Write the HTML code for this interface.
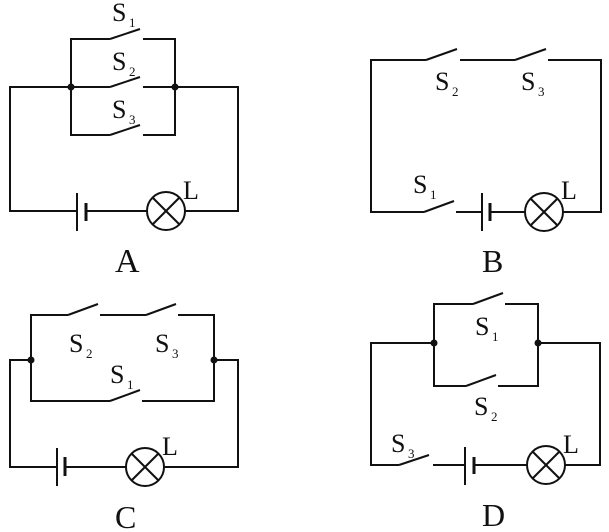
<!DOCTYPE html>
<html><head><meta charset="utf-8"><style>
html,body{margin:0;padding:0;background:#fff;}
svg{display:block;}
text{font-family:"Liberation Serif",serif;fill:#111;}
.s{font-size:26px}.b{font-size:13px}.big{font-size:32px}.l{font-size:26px}
</style></head><body>
<svg width="609" height="532" viewBox="0 0 609 532" xmlns="http://www.w3.org/2000/svg">
<g stroke="#111" stroke-width="2" fill="none">
<!-- A -->
<polyline points="110,39 71,39 71,135 110,135"/>
<polyline points="143,39 175,39 175,135 143,135"/>
<line x1="110" y1="39" x2="140" y2="29"/><line x1="110" y1="87" x2="140" y2="77"/><line x1="110" y1="135" x2="140" y2="125"/>
<polyline points="110,87 10,87 10,211 77,211"/>
<polyline points="143,87 238,87 238,211 185,211"/>
<line x1="86" y1="211" x2="147" y2="211"/>
<line x1="77" y1="193" x2="77" y2="231"/><line x1="86" y1="203" x2="86" y2="221" stroke-width="3"/>
<circle cx="166" cy="211" r="19"/><line x1="153" y1="198" x2="179" y2="224"/><line x1="179" y1="198" x2="153" y2="224"/>
<!-- B -->
<polyline points="426,60 371,60 371,212 424,212"/>
<line x1="426" y1="60" x2="457" y2="49"/>
<line x1="460" y1="60" x2="515" y2="60"/><line x1="515" y1="60" x2="546" y2="49"/>
<polyline points="548,60 601,60 601,212 563,212"/>
<line x1="424" y1="212" x2="454" y2="201"/>
<line x1="456" y1="212" x2="482" y2="212"/><line x1="490" y1="212" x2="525" y2="212"/>
<line x1="482" y1="193" x2="482" y2="231"/><line x1="490" y1="203" x2="490" y2="221" stroke-width="3"/>
<circle cx="544" cy="212" r="19"/><line x1="531" y1="199" x2="557" y2="225"/><line x1="557" y1="199" x2="531" y2="225"/>
<!-- C -->
<polyline points="68,315 31,315 31,401 110,401"/>
<line x1="68" y1="315" x2="98" y2="304"/>
<line x1="100" y1="315" x2="146" y2="315"/><line x1="146" y1="315" x2="176" y2="304"/>
<polyline points="178,315 214,315 214,401 142,401"/>
<line x1="110" y1="401" x2="140" y2="390"/>
<polyline points="31,360 10,360 10,467 57,467"/>
<polyline points="214,360 238,360 238,467 164,467"/>
<line x1="65" y1="467" x2="126" y2="467"/>
<line x1="57" y1="448" x2="57" y2="486"/><line x1="65" y1="457" x2="65" y2="476" stroke-width="3"/>
<circle cx="145" cy="467" r="19"/><line x1="132" y1="454" x2="158" y2="480"/><line x1="158" y1="454" x2="132" y2="480"/>
<!-- D -->
<polyline points="473,304 434,304 434,386 466,386"/>
<line x1="473" y1="304" x2="503" y2="293"/>
<polyline points="505,304 538,304 538,386 498,386"/>
<line x1="466" y1="386" x2="496" y2="375"/>
<polyline points="434,343 371,343 371,465 399,465"/>
<line x1="399" y1="465" x2="429" y2="455"/>
<polyline points="538,343 600,343 600,465 565,465"/>
<line x1="433" y1="465" x2="465" y2="465"/><line x1="474" y1="465" x2="527" y2="465"/>
<line x1="465" y1="447" x2="465" y2="485"/><line x1="474" y1="457" x2="474" y2="474" stroke-width="3"/>
<circle cx="546" cy="465" r="19"/><line x1="533" y1="452" x2="559" y2="478"/><line x1="559" y1="452" x2="533" y2="478"/>
</g>
<g fill="#111">
<circle cx="71" cy="87" r="3.5"/><circle cx="175" cy="87" r="3.5"/>
<circle cx="31" cy="360" r="3.5"/><circle cx="214" cy="360" r="3.5"/>
<circle cx="434" cy="343" r="3.5"/><circle cx="538" cy="343" r="3.5"/>
</g>
<!-- labels A -->
<text class="s" x="112" y="21">S</text><text class="b" x="129" y="27">1</text>
<text class="s" x="112" y="70">S</text><text class="b" x="129" y="76">2</text>
<text class="s" x="112" y="118">S</text><text class="b" x="129" y="124">3</text>
<text class="l" x="183" y="199">L</text>
<text class="big" x="115" y="272" style="font-size:34px">A</text>
<!-- B -->
<text class="s" x="435" y="90">S</text><text class="b" x="452" y="96">2</text>
<text class="s" x="521" y="90">S</text><text class="b" x="538" y="96">3</text>
<text class="s" x="413" y="193">S</text><text class="b" x="430" y="199">1</text>
<text class="l" x="561" y="199">L</text>
<text class="big" x="482" y="272">B</text>
<!-- C -->
<text class="s" x="69" y="352">S</text><text class="b" x="86" y="358">2</text>
<text class="s" x="155" y="352">S</text><text class="b" x="172" y="358">3</text>
<text class="s" x="110" y="383">S</text><text class="b" x="127" y="389">1</text>
<text class="l" x="162" y="455">L</text>
<text class="big" x="115" y="528">C</text>
<!-- D -->
<text class="s" x="475" y="335">S</text><text class="b" x="492" y="341">1</text>
<text class="s" x="474" y="415">S</text><text class="b" x="491" y="421">2</text>
<text class="s" x="391" y="452">S</text><text class="b" x="408" y="458">3</text>
<text class="l" x="563" y="453">L</text>
<text class="big" x="482" y="526">D</text>
</svg>
</body></html>
